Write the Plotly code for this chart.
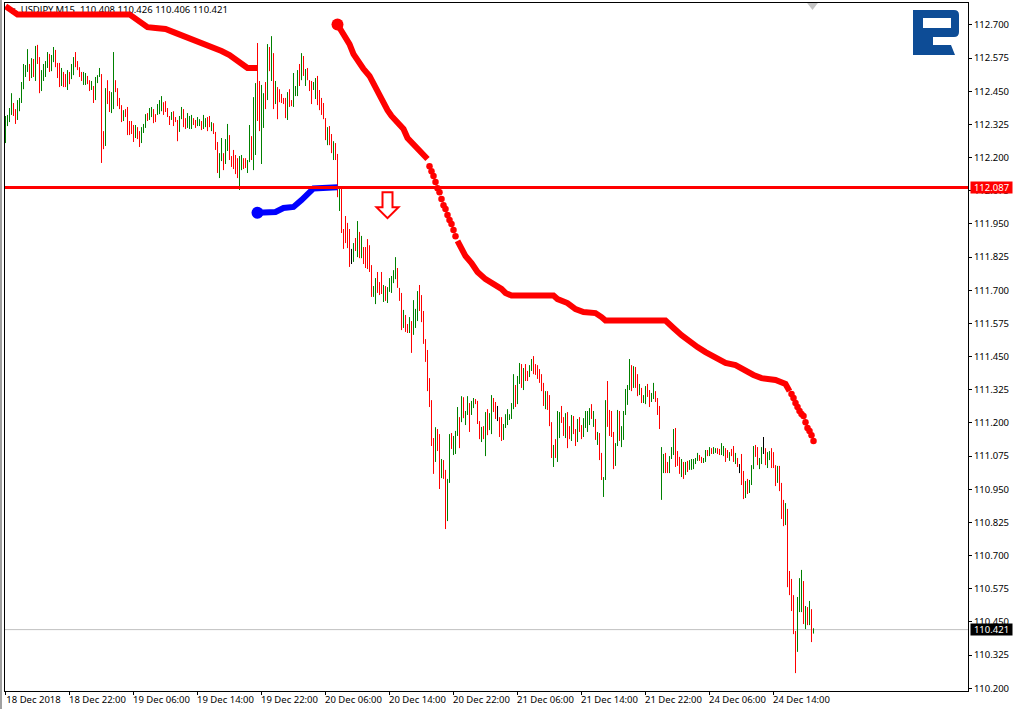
import plotly.graph_objects as go

highs = [
112.357,112.361,112.387,112.443,112.406,112.383,112.417,112.425,112.485,112.553,
112.549,112.609,112.553,112.575,112.572,112.621,112.625,112.579,112.530,112.553,
112.564,112.598,112.591,112.587,112.617,112.606,112.557,112.557,112.538,112.523,
112.515,112.530,112.523,112.553,112.579,112.598,112.564,112.541,112.523,112.523,
112.519,112.508,112.492,112.489,112.470,112.504,112.511,112.538,112.515,112.300,
112.462,112.492,112.451,112.447,112.598,112.492,112.462,112.425,112.398,112.379,
112.383,112.391,112.338,112.338,112.323,112.323,112.315,112.300,112.315,112.327,
112.364,112.368,112.387,112.391,112.383,112.364,112.402,112.417,112.432,112.409,
112.413,112.387,112.357,112.372,112.375,112.353,112.342,112.357,112.391,112.383,
112.349,112.368,112.357,112.361,112.349,112.342,112.353,112.345,112.338,112.361,
112.349,112.353,112.357,112.334,112.330,112.297,112.259,112.217,112.274,112.217,
112.270,112.327,112.285,112.206,112.229,112.210,112.198,112.206,112.210,112.198,
112.198,112.191,112.323,112.281,112.428,112.481,112.632,112.489,112.474,112.443,
112.485,112.628,112.617,112.658,112.594,112.489,112.466,112.458,112.440,112.425,
112.425,112.447,112.458,112.417,112.519,112.470,112.530,112.553,112.594,112.583,
112.534,112.538,112.492,112.489,112.485,112.500,112.508,112.455,112.425,112.406,
112.349,112.315,112.319,112.289,112.262,112.255,112.214,112.082,112.082,111.931,
111.980,111.954,111.931,111.856,111.878,111.897,111.961,111.920,111.905,111.863,
111.863,111.893,111.870,111.795,111.716,111.746,111.769,111.731,111.769,111.720,
111.716,111.712,111.746,111.754,111.776,111.825,111.784,111.709,111.690,111.626,
111.607,111.573,111.599,111.584,111.663,111.630,111.697,111.720,111.682,111.622,
111.516,111.475,111.369,111.286,111.143,111.184,111.177,111.158,111.064,111.060,
111.023,110.989,111.158,111.162,111.151,111.170,111.260,111.222,111.301,111.297,
111.245,111.301,111.275,111.283,111.294,111.290,111.283,111.207,111.185,111.188,
111.241,111.252,111.237,111.305,111.294,111.279,111.264,111.222,111.222,111.196,
111.233,111.252,111.233,111.275,111.384,111.343,111.377,111.426,111.422,111.407,
111.422,111.396,111.418,111.441,111.452,111.422,111.418,111.403,111.384,111.351,
111.320,111.320,111.305,111.203,111.117,111.139,111.245,111.241,111.264,111.222,
111.237,111.241,111.188,111.230,111.226,111.177,111.215,111.222,111.192,111.218,
111.245,111.245,111.256,111.271,111.245,111.215,111.166,111.162,111.087,110.996,
111.286,111.358,111.249,111.245,111.166,111.124,111.249,111.245,111.188,111.245,
111.328,111.343,111.441,111.418,111.414,111.411,111.384,111.347,111.332,111.305,
111.339,111.347,111.324,111.313,111.351,111.320,111.294,111.264,111.109,111.083,
111.087,111.053,111.075,111.109,111.177,111.181,111.094,111.072,111.064,111.053,
111.053,111.057,111.060,111.064,111.064,111.068,111.087,111.079,111.072,111.068,
111.098,111.098,111.109,111.105,111.109,111.105,111.105,111.102,111.124,111.113,
111.105,111.098,111.090,111.102,111.113,111.087,111.068,111.045,111.083,111.019,
110.981,110.989,110.985,111.041,111.113,111.117,111.109,111.068,111.109,111.147,
111.105,111.090,111.094,111.105,111.090,111.041,111.038,111.038,110.974,110.910,
110.898,110.876,110.642,110.612,110.551,110.416,110.544,110.615,110.646,110.604,
110.510,110.506,110.529,110.498,110.426,
]

lows = [
112.255,112.319,112.334,112.361,112.357,112.327,112.342,112.375,112.406,112.458,
112.504,112.523,112.489,112.500,112.504,112.489,112.553,112.443,112.451,112.489,
112.504,112.538,112.523,112.526,112.560,112.541,112.500,112.466,112.470,112.466,
112.466,112.455,112.477,112.496,112.511,112.541,112.530,112.504,112.489,112.474,
112.474,112.477,112.451,112.455,112.406,112.417,112.481,112.504,112.180,112.232,
112.244,112.402,112.372,112.368,112.383,112.447,112.394,112.383,112.334,112.338,
112.353,112.285,112.285,112.289,112.259,112.274,112.270,112.240,112.255,112.293,
112.312,112.338,112.342,112.353,112.330,112.334,112.361,112.364,112.375,112.361,
112.372,112.353,112.323,112.342,112.319,112.334,112.262,112.297,112.345,112.315,
112.308,112.312,112.308,112.308,112.323,112.312,112.319,112.319,112.304,112.308,
112.315,112.300,112.315,112.300,112.289,112.229,112.142,112.123,112.187,112.153,
112.176,112.225,112.191,112.165,112.157,112.138,112.123,112.078,112.153,112.157,
112.161,112.142,112.183,112.191,112.153,112.210,112.338,112.300,112.176,112.312,
112.383,112.417,112.526,112.489,112.383,112.402,112.345,112.409,112.406,112.402,
112.349,112.342,112.391,112.394,112.391,112.432,112.432,112.470,112.492,112.508,
112.470,112.492,112.451,112.402,112.455,112.421,112.398,112.379,112.361,112.345,
112.266,112.247,112.247,112.217,112.191,112.191,112.051,111.999,111.916,111.856,
111.878,111.859,111.788,111.799,111.807,111.848,111.825,111.821,111.821,111.799,
111.784,111.780,111.769,111.675,111.675,111.648,111.690,111.682,111.686,111.656,
111.660,111.652,111.694,111.690,111.727,111.742,111.709,111.660,111.550,111.558,
111.543,111.539,111.539,111.464,111.532,111.558,111.584,111.622,111.580,111.498,
111.430,111.320,111.260,111.113,111.008,111.053,111.094,110.951,110.992,110.989,
110.800,110.830,110.974,111.102,111.079,111.083,111.151,111.105,111.203,111.218,
111.192,111.230,111.166,111.230,111.256,111.271,111.196,111.139,111.128,111.139,
111.075,111.154,111.173,111.158,111.241,111.215,111.207,111.147,111.132,111.136,
111.181,111.192,111.211,111.215,111.252,111.260,111.271,111.347,111.332,111.324,
111.358,111.358,111.373,111.396,111.384,111.381,111.366,111.351,111.320,111.264,
111.252,111.249,111.188,111.068,111.034,111.068,111.053,111.143,111.200,111.151,
111.143,111.105,111.139,111.132,111.158,111.113,111.128,111.166,111.139,111.147,
111.181,111.166,111.192,111.215,111.185,111.136,111.117,111.060,110.985,110.921,
110.985,111.185,111.151,111.147,111.026,111.038,111.113,111.132,111.109,111.136,
111.230,111.268,111.324,111.320,111.332,111.332,111.301,111.305,111.275,111.275,
111.271,111.298,111.260,111.279,111.290,111.279,111.230,111.177,110.910,111.011,
111.011,111.011,111.011,111.064,111.079,111.034,111.038,111.008,110.996,110.989,
111.004,111.015,111.023,111.023,111.026,111.045,111.057,111.057,111.049,111.049,
111.053,111.075,111.075,111.083,111.083,111.087,111.083,111.079,111.079,111.075,
111.053,111.068,111.057,111.075,111.053,111.045,111.034,111.011,110.966,110.913,
110.917,110.932,110.936,110.966,111.026,111.072,111.041,111.026,111.045,111.083,
111.041,111.030,111.060,111.030,111.030,110.962,110.974,110.943,110.838,110.811,
110.815,110.581,110.551,110.491,110.404,110.257,110.337,110.487,110.487,110.442,
110.423,110.438,110.438,110.374,110.406,
]

# u = close above open, d = close below open, n = unchanged
directions = "".join([
"uuuudduuuu","uudududduu","uuduudddud","duduuddddu","udduduuudd",
"udduuddddu","dddddudduu","uduudduuud","ddduddduud","duuudduudu",
"udduddduud","uuddddduud","duuduudduu","dudududddd","dudduuudud",
"uddduudddd","dudduddudd","dddnududud","dddduudddu","duuuuudddu",
"dduduuuddd","ddddduddud","duuduuudud","uuduudddud","uduuddnddu",
"uuuuuduudu","dduudddddd","uddduduudd","uddudduddu","uuudududdu",
"udddduuduu","uuududdudu","udduuddduu","dduuudddud","uduuuuuddu",
"ududuudduu","ddudd" "udndd","uduuudduun","duuddduddd","uddddduuud",
"ududu",
])

# upper-left thick curve
curve_a_bars = [0,2,4,6,62,65,67,69,71,75,80,84,88,92,96,100,104,108,112,115,118,121,126]
curve_a_vals = [112.771,112.760,112.749,112.740,112.740,112.723,112.708,112.698,112.692,112.689,112.685,
                112.673,112.662,112.649,112.639,112.628,112.617,112.602,112.587,112.572,112.553,112.538,112.538]

# blue curve
curve_b_bars = [126,131,135,139,144,148,152,154,166]
curve_b_vals = [111.992,111.993,111.995,112.010,112.014,112.040,112.067,112.084,112.088]

# long red curve, solid stretches and dotted stretches
curve_c1_bars = [166,169,170,172,174,176,179,182,185,188,191,193,196,199,201,205,208,211]
curve_c1_vals = [112.702,112.666,112.647,112.628,112.590,112.566,112.534,112.508,112.462,112.421,112.379,
                 112.357,112.334,112.308,112.274,112.244,112.221,112.195]
curve_c2_bars = list(range(212,226))
curve_c2_vals = [112.168,112.149,112.131,112.108,112.085,112.070,112.044,112.021,112.006,111.984,111.965,111.950,111.927,111.904]
curve_c3_bars = [226,227,229,230,233,236,240,244,248,250,253,274,276,281,285,289,295,298,300,330,332,334,338,341,346,350,355,360,365,370,374,378,385,390,392]
curve_c3_vals = [111.886,111.871,111.848,111.829,111.803,111.769,111.742,111.724,111.705,111.690,111.680,111.680,
                 111.667,111.652,111.629,111.618,111.614,111.599,111.586,111.586,111.569,111.558,111.531,111.513,
                 111.486,111.467,111.445,111.426,111.418,111.396,111.381,111.369,111.362,111.347,111.320]
curve_c4_bars = list(range(393,405))
curve_c4_vals = [111.309,111.294,111.275,111.260,111.245,111.234,111.226,111.203,111.181,111.170,111.154,111.132]

level_price = 112.087
last_price = 110.421
signal_bar = 191
signal_price = 112.070

ohlc_title = "USDJPY,M15  110.408 110.426 110.406 110.421"
date_labels = ["18 Dec 2018","18 Dec 22:00","19 Dec 06:00","19 Dec 14:00","19 Dec 22:00","20 Dec 06:00",
               "20 Dec 14:00","20 Dec 22:00","21 Dec 06:00","21 Dec 14:00","21 Dec 22:00","24 Dec 06:00","24 Dec 14:00"]
date_bars = [0,32,64,96,128,160,192,224,256,288,320,352,384]
price_ticks = [112.700,112.575,112.450,112.325,112.200,112.075,111.950,111.825,111.700,111.575,111.450,
               111.325,111.200,111.075,110.950,110.825,110.700,110.575,110.450,110.325,110.200]

FONT = "Noto Sans"
GREEN, RED, BLACK = "#008000", "#ff0000", "#000000"
COL = {"u": GREEN, "d": RED, "n": BLACK}

assert len(highs) == len(lows) == len(directions), (len(highs), len(lows), len(directions))

fig = go.Figure()

# title text and its triangle lie beneath the curves
fig.add_trace(go.Scatter(x=[7.6], y=[112.7545], mode="text", text=[ohlc_title], textposition="middle right",
                         textfont=dict(family=FONT, size=9.5, color="#000000"), hoverinfo="skip", showlegend=False))
fig.add_trace(go.Scatter(x=[3], y=[112.756], mode="markers", marker=dict(symbol="triangle-down", size=7, color="#000000"),
                         hoverinfo="skip", showlegend=False))
fig.add_trace(go.Scatter(x=[403.5], y=[112.775], mode="markers", marker=dict(symbol="triangle-down", size=10, color="#c4c4c4"),
                         hoverinfo="skip", showlegend=False, cliponaxis=False))

for key in "udn":
    xs, ys = [], []
    for i, (h, l, d) in enumerate(zip(highs, lows, directions)):
        if d == key:
            xs += [i, i, None]
            ys += [h, l, None]
    fig.add_trace(go.Scatter(x=xs, y=ys, mode="lines", line=dict(color=COL[key], width=1), hoverinfo="skip",
                             showlegend=False))

thick = dict(width=6)
fig.add_trace(go.Scatter(x=curve_a_bars, y=curve_a_vals, mode="lines", line=dict(color=RED, **thick), showlegend=False, hoverinfo="skip"))
fig.add_trace(go.Scatter(x=curve_b_bars, y=curve_b_vals, mode="lines", line=dict(color="#0000ff", **thick), showlegend=False, hoverinfo="skip"))
fig.add_trace(go.Scatter(x=curve_b_bars[:1], y=curve_b_vals[:1], mode="markers", marker=dict(color="#0000ff", size=12), showlegend=False, hoverinfo="skip"))
fig.add_trace(go.Scatter(x=curve_c1_bars, y=curve_c1_vals, mode="lines", line=dict(color=RED, **thick), showlegend=False, hoverinfo="skip"))
fig.add_trace(go.Scatter(x=curve_c1_bars[:1], y=curve_c1_vals[:1], mode="markers", marker=dict(color=RED, size=12), showlegend=False, hoverinfo="skip"))
fig.add_trace(go.Scatter(x=curve_c2_bars, y=curve_c2_vals, mode="markers", marker=dict(color=RED, size=6.5), showlegend=False, hoverinfo="skip"))
fig.add_trace(go.Scatter(x=curve_c3_bars, y=curve_c3_vals, mode="lines", line=dict(color=RED, **thick), showlegend=False, hoverinfo="skip"))
fig.add_trace(go.Scatter(x=curve_c4_bars, y=curve_c4_vals, mode="markers", marker=dict(color=RED, size=6.5), showlegend=False, hoverinfo="skip"))

shapes = [
    dict(type="line", xref="paper", x0=0, x1=1, yref="y", y0=last_price, y1=last_price,
         line=dict(color="#c0c0c0", width=1), layer="below"),
    dict(type="line", xref="paper", x0=0, x1=1, yref="y", y0=level_price, y1=level_price,
         line=dict(color=RED, width=3), layer="above"),
    # sell signal arrow
    dict(type="path", xref="x", yref="y", xsizemode="pixel", ysizemode="pixel",
         xanchor=signal_bar, yanchor=signal_price,
         path="M-5,0 L5,0 L5,-15 L11,-15 L0,-26 L-11,-15 L-5,-15 Z",
         fillcolor="#ffffff", line=dict(color=RED, width=2), layer="above"),
    # logo
    dict(type="path", xref="paper", yref="paper", xsizemode="pixel", ysizemode="pixel",
         xanchor=(913 - 5) / 963, yanchor=1 - (10 - 3) / 688,
         path=("M0,0 L41,0 Q46,0 46,-5 L46,-22 Q46,-27 41,-27 L20,-27 L20,-45 L0,-45 Z "
               "M10,-8 L38,-8 L38,-18 L10,-18 Z "),
         fillrule="evenodd", fillcolor="#0d4c96", line=dict(width=0), layer="above"),
    dict(type="path", xref="paper", yref="paper", xsizemode="pixel", ysizemode="pixel",
         xanchor=(913 - 5) / 963, yanchor=1 - (10 - 3) / 688,
         path="M20,-35 L38,-35 L42,-45 L20,-45 Z",
         fillcolor="#0d4c96", line=dict(width=0), layer="above"),
    # window edge
    dict(type="rect", xref="paper", yref="paper", xsizemode="pixel", xanchor=0, x0=-5, x1=-3, y0=-0.05, y1=1.01,
         fillcolor="#a0a0a0", line=dict(width=0), layer="above"),
]

def price_box(price, bg):
    return dict(xref="paper", x=1, xanchor="left", xshift=2, yref="y", y=price, yanchor="middle",
                text=f"{price:.3f}", showarrow=False, bgcolor=bg, width=41, height=11, borderpad=0,
                font=dict(family=FONT, size=9.5, color="#ffffff"), align="center")

fig.update_layout(
    width=1013, height=709, autosize=False,
    margin=dict(l=5, r=45, t=3, b=18, pad=0, autoexpand=False),
    paper_bgcolor="#ffffff", plot_bgcolor="#ffffff",
    showlegend=False, shapes=shapes,
    annotations=[price_box(level_price, RED), price_box(last_price, "#000000")],
    xaxis=dict(range=[-0.25, 481.25], showgrid=False, zeroline=False, showline=True, linecolor="#000000", linewidth=1,
               mirror=True, ticks="outside", ticklen=3, tickcolor="#000000", tickwidth=1,
               tickmode="array", tickvals=date_bars, ticktext=date_labels, tickangle=0, ticklabelshift=28,
               ticklabeloverflow="allow", ticklabelstandoff=-3,
               tickfont=dict(family=FONT, size=9.5, color="#000000")),
    yaxis=dict(range=[110.1896, 112.7829], side="right", showgrid=False, zeroline=False, showline=True,
               linecolor="#000000", linewidth=1, mirror=True, ticks="outside", ticklen=3, tickcolor="#000000", tickwidth=1,
               tickmode="array", tickvals=price_ticks, ticktext=[f"{p:.3f}" for p in price_ticks],
               ticklabeloverflow="allow", tickfont=dict(family=FONT, size=9.5, color="#000000")),
)

fig.write_html("out.html", config={"displayModeBar": False},
               post_script="document.body.style.margin='0';document.documentElement.style.overflow='hidden';")
